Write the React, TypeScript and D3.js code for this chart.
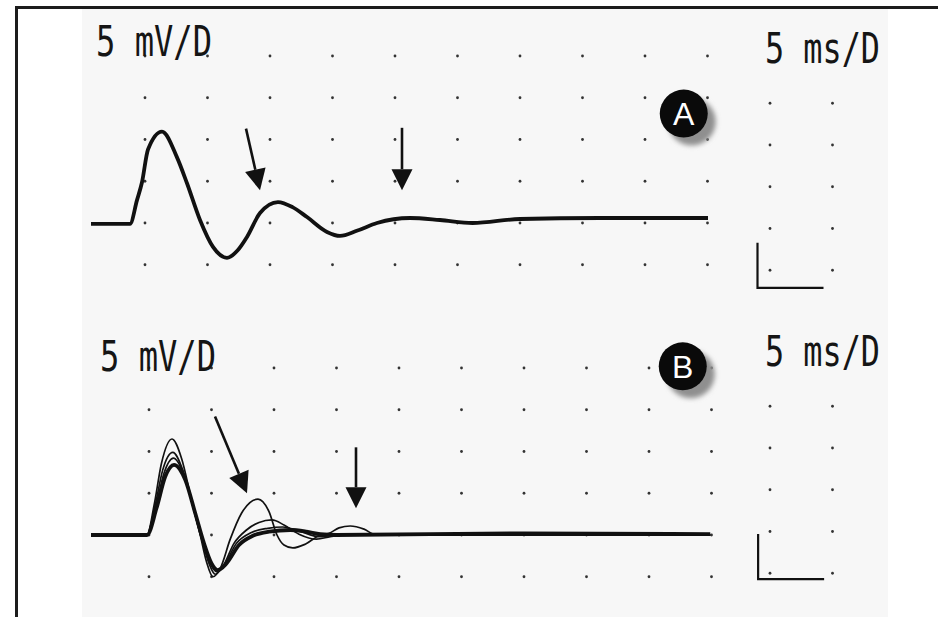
import React from "react";
import * as d3 from "d3";

type Pt = [number, number];

// Grid (5 ms / division, 5 mV / division)
const gridTimes = [0, 5, 10, 15, 20, 25, 30, 35, 40, 45];
const gridVolts = [-5, 0, 5, 10, 15, 20];
const sideTimes = [50, 55];
const sideVolts = [-5, 0, 5, 10, 15];

// Panel A trace (time ms, mV)
const traceA: Pt[] = [
  [-4.32, -0.1], [-1.2, -0.1], [-0.64, 2.74], [-0.24, 4.88], [0.24, 8.8], [1.36, 10.95],
  [2.56, 7.86], [3.36, 4.76], [4.4, 0.36], [5.44, -2.86], [6.56, -4.17], [7.4, -3.3],
  [8.16, -1.67], [9.2, 1.19], [10.64, 2.5], [11.8, 1.9], [12.96, 0.71], [14.56, -1.07],
  [15.6, -1.55], [17.0, -0.9], [18.56, 0], [21.2, 0.6], [23.6, 0.36], [26.2, 0],
  [30, 0.48], [36.4, 0.6], [45.04, 0.6],
];

// Panel B traces (superimposed sweeps)
const traceB1: Pt[] = [
  [-4.64, 0], [-0.16, 0], [0.4, 3.5], [1.0, 8.6], [1.84, 11.5], [2.6, 9.2], [3.4, 4.2],
  [4.1, 0], [4.6, -3.2], [5.12, -5.0], [5.7, -4.0], [6.5, -0.5], [7.4, 2.6], [8.72, 4.3],
  [9.6, 2.8], [10.24, 0], [10.8, -1.2], [11.5, -1.55], [12.5, -1.1], [13.7, 0], [14.4, 0.2],
  [15.2, 0.85], [16.1, 1.08], [17.2, 0.7], [18.1, 0.05], [20, 0], [44.9, 0],
];
const traceB2: Pt[] = [
  [-4.64, 0], [-0.16, 0], [0.5, 3.6], [1.1, 7.8], [1.9, 9.9], [2.7, 7.8], [3.5, 3.5],
  [4.2, -0.4], [4.8, -3.4], [5.3, -4.7], [5.9, -3.8], [6.8, -1.0], [7.8, 0.6], [8.8, 1.5],
  [9.84, 1.8], [10.8, 1.2], [12, 0.1], [13.4, -0.5], [14.5, -0.2], [15.5, 0], [44.9, 0],
];
const traceB3: Pt[] = [
  [-4.64, 0], [-0.16, 0], [0.55, 3.4], [1.2, 7.4], [1.95, 9.2], [2.8, 7.2], [3.6, 3.0],
  [4.3, -0.8], [4.9, -3.4], [5.4, -4.4], [6.0, -3.6], [7.0, -1.0], [8.2, 0.3], [9.5, 0.8],
  [10.7, 0.96], [12, 0.5], [13.6, -0.2], [15, 0], [44.9, 0],
];
const traceB4: Pt[] = [
  [-4.64, 0], [-0.16, 0], [0.6, 3.2], [1.3, 7.0], [2.0, 8.4], [2.9, 6.6], [3.7, 2.6],
  [4.4, -1.0], [5.0, -3.4], [5.5, -4.2], [6.2, -3.4], [7.2, -1.2], [8.3, -0.1], [9.6, 0.4],
  [11.3, 0.6], [12.6, 0.4], [13.7, 0.1], [15, 0], [30, 0.2], [44.9, 0.1],
];

// Arrows: [tailT, tailV, tipT, tipV]
const arrowsA = [[8.08, 11.3, 9.2, 3.93], [20.56, 11.4, 20.56, 3.93]];
const arrowsB = [[5.28, 14.2, 7.84, 5.0], [16.56, 10.5, 16.56, 3.2]];

const labelsA = { volt: "5 mV/D", time: "5 ms/D", badge: "A" };
const labelsB = { volt: "5 mV/D", time: "5 ms/D", badge: "B" };

const W = 938;
const H = 617;

function Arrow({ x1, y1, x2, y2 }: { x1: number; y1: number; x2: number; y2: number }) {
  const ang = Math.atan2(y2 - y1, x2 - x1);
  const len = 21;
  const half = 10.5;
  const bx = x2 - len * Math.cos(ang);
  const by = y2 - len * Math.sin(ang);
  const px = -Math.sin(ang) * half;
  const py = Math.cos(ang) * half;
  return (
    <g>
      <line x1={x1} y1={y1} x2={bx} y2={by} stroke="#111" strokeWidth={2.6} />
      <path d={`M${x2},${y2}L${bx + px},${by + py}L${bx - px},${by - py}Z`} fill="#111" />
    </g>
  );
}

function Panel({
  x0, y0, sideX0, sideDy, traces, arrows, labels, voltPos, timePos, badge, bar,
}: any) {
  const x = d3.scaleLinear().domain([0, 45]).range([x0, x0 + 562.5]);
  const y = d3.scaleLinear().domain([0, 20]).range([y0, y0 - 167]);
  const xs = d3.scaleLinear().domain([0, 45]).range([sideX0, sideX0 + 562.5]);
  const line = d3
    .line<Pt>()
    .x((d) => x(d[0]))
    .y((d) => y(d[1]))
    .curve(d3.curveMonotoneX);
  const dots: JSX.Element[] = [];
  gridTimes.forEach((t) =>
    gridVolts.forEach((v) =>
      dots.push(<circle key={`g${t}_${v}`} cx={x(t)} cy={y(v)} r={1.4} fill="#333" />)
    )
  );
  sideTimes.forEach((t) =>
    sideVolts.forEach((v) =>
      dots.push(<circle key={`s${t}_${v}`} cx={xs(t)} cy={y(v) + sideDy} r={1.4} fill="#333" />)
    )
  );
  const bx = xs(bar[0]);
  const by = y(bar[1]) + sideDy;
  return (
    <g>
      {dots}
      {traces.map((tr: any, i: number) => (
        <path key={i} d={line(tr.data) || ""} fill="none" stroke="#111" strokeWidth={tr.w} strokeLinejoin="round" />
      ))}
      {arrows.map((a: number[], i: number) => (
        <Arrow key={i} x1={x(a[0])} y1={y(a[1])} x2={x(a[2])} y2={y(a[3])} />
      ))}
      <text x={voltPos[0]} y={voltPos[1]} fontFamily="DejaVu Sans Mono" fontSize={42} fill="#151515"
        textLength={116} lengthAdjust="spacingAndGlyphs">{labels.volt}</text>
      <text x={timePos[0]} y={timePos[1]} fontFamily="DejaVu Sans Mono" fontSize={42} fill="#151515"
        textLength={115} lengthAdjust="spacingAndGlyphs">{labels.time}</text>
      <circle cx={x(badge[0]) + 8} cy={y(badge[1]) + 8} r={24} fill="#8f8f8f" filter="url(#blur)" />
      <circle cx={x(badge[0])} cy={y(badge[1])} r={24} fill="#0a0a0a" />
      <text x={x(badge[0])} y={y(badge[1]) + 11.5} textAnchor="middle" fontFamily="Liberation Sans, Arial"
        fontSize={32} fill="#fff">{labels.badge}</text>
      <path d={`M${bx},${by - 45}V${by}H${bx + 66}`} fill="none" stroke="#111" strokeWidth={2.2} />
    </g>
  );
}

export default function App() {
  return (
    <svg width={W} height={H} style={{ position: "absolute", left: 0, top: 0, background: "#fff" }}>
      <defs>
        <filter id="blur" x="-50%" y="-50%" width="200%" height="200%">
          <feGaussianBlur stdDeviation={2.5} />
        </filter>
      </defs>
      <rect x={0} y={0} width={W} height={H} fill="#fff" />
      <rect x={82} y={9} width={806} height={H} fill="#f7f7f7" />
      <Panel
        x0={145} y0={223} sideX0={145} sideDy={5.5}
        traces={[{ data: traceA, w: 3.8 }]}
        arrows={arrowsA} labels={labelsA}
        voltPos={[96, 56]} timePos={[765, 63]}
        badge={[43.1, 13.1]} bar={[49.0, -7.1]}
      />
      <Panel
        x0={149} y0={535} sideX0={145} sideDy={-3.5}
        traces={[
          { data: traceB4, w: 3.8 },
          { data: traceB3, w: 1.7 },
          { data: traceB2, w: 1.7 },
          { data: traceB1, w: 1.7 },
        ]}
        arrows={arrowsB} labels={labelsB}
        voltPos={[100, 371]} timePos={[765, 366]}
        badge={[42.7, 20.2]} bar={[49.05, -5.7]}
      />
      <path d={`M16.5,${H}V7.5H${W}`} fill="none" stroke="#1c1c1c" strokeWidth={3} />
    </svg>
  );
}
